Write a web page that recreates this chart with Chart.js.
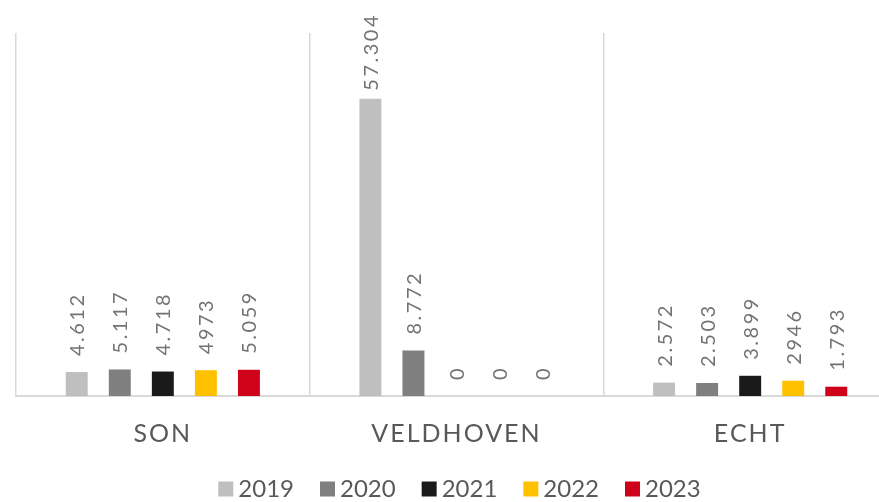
<!DOCTYPE html>
<html>
<head>
<meta charset="utf-8">
<script src="https://cdn.jsdelivr.net/npm/chart.js@4/dist/chart.umd.min.js"></script>
<style>
  html, body { margin: 0; padding: 0; background: #fff; overflow: hidden; }
  #wrap { width: 879px; height: 502px; overflow: hidden; }
</style>
</head>
<body>
<div id="wrap"><canvas id="chart" width="910" height="511"></canvas></div>
<script>
  const categories = ["SON", "VELDHOVEN", "ECHT"];
  const years = ["2019", "2020", "2021", "2022", "2023"];
  const values2019 = [4612, 57304, 2572];
  const values2020 = [5117, 8772, 2503];
  const values2021 = [4718, 0, 3899];
  const values2022 = [4973, 0, 2946];
  const values2023 = [5059, 0, 1793];
  // the 2022 labels have no thousands dot in the original
  const labels2022 = ["4973", "0", "2946"];

  const COLORS = ["#BFBFBF", "#7F7F7F", "#1A1A1A", "#FFC000", "#D0021B"];
  const FONT = "Lato, 'Open Sans', sans-serif";

  const fmt = (v) => v.toLocaleString("nl-NL");

  // rotated value labels above each bar
  const barLabels = {
    id: "barLabels",
    afterDatasetsDraw(chart) {
      const ctx = chart.ctx;
      ctx.save();
      ctx.font = `20px ${FONT}`;
      ctx.fillStyle = "#737373";
      ctx.letterSpacing = "2.5px";
      ctx.textAlign = "left";
      ctx.textBaseline = "middle";
      chart.data.datasets.forEach((ds, i) => {
        chart.getDatasetMeta(i).data.forEach((bar, j) => {
          const text = ds.labelText ? ds.labelText[j] : fmt(ds.data[j]);
          const w = ctx.measureText(text).width;
          const start = Math.max(bar.y - 16, 13 + w);
          ctx.save();
          ctx.translate(bar.x + 1, start);
          ctx.rotate(-Math.PI / 2);
          ctx.fillText(text, 0, 0);
          ctx.restore();
        });
      });
      ctx.restore();
    },
    beforeDraw(chart) {
      // spaced-out category names
      const x = chart.scales.x;
      if (x && !x._spaced) {
        const orig = x.drawLabels;
        x.drawLabels = function (area) {
          chart.ctx.save();
          chart.ctx.letterSpacing = "2px";
          orig.call(this, area);
          chart.ctx.restore();
        };
        x._spaced = true;
      }
    },
  };

  const seriesValues = [values2019, values2020, values2021, values2022, values2023];

  new Chart(document.getElementById("chart"), {
    type: "bar",
    data: {
      labels: categories,
      datasets: years.map((year, i) => ({
        label: year,
        data: seriesValues[i],
        labelText: i === 3 ? labels2022 : null,
        backgroundColor: COLORS[i],
        borderWidth: 0,
        categoryPercentage: 0.733,
        barPercentage: 0.51,
      })),
    },
    options: {
      responsive: false,
      animation: false,
      layout: { padding: { left: 16, right: 0, top: 33, bottom: 0 } },
      plugins: {
        tooltip: { enabled: false },
        legend: {
          position: "bottom",
          labels: {
            usePointStyle: true,
            pointStyle: "rect",
            boxWidth: 1,
            boxHeight: 15,
            padding: 33,
            color: "#595959",
            font: { family: FONT, size: 24 },
          },
        },
      },
      scales: {
        x: {
          grid: { display: true, color: "#D9D9D9", lineWidth: 1.5, drawTicks: false, offset: true },
          border: { display: true, color: "#D9D9D9", width: 2 },
          ticks: { color: "#595959", font: { family: FONT, size: 25 }, padding: 23 },
          afterFit: (s) => { s.height -= 28; },
        },
        y: {
          position: "right",
          min: 0,
          max: 70000,
          grid: { display: false },
          border: { display: false },
          ticks: { display: false },
          afterFit: (s) => { s.width = 13; },
        },
      },
    },
    plugins: [barLabels],
  });
</script>
</body>
</html>
